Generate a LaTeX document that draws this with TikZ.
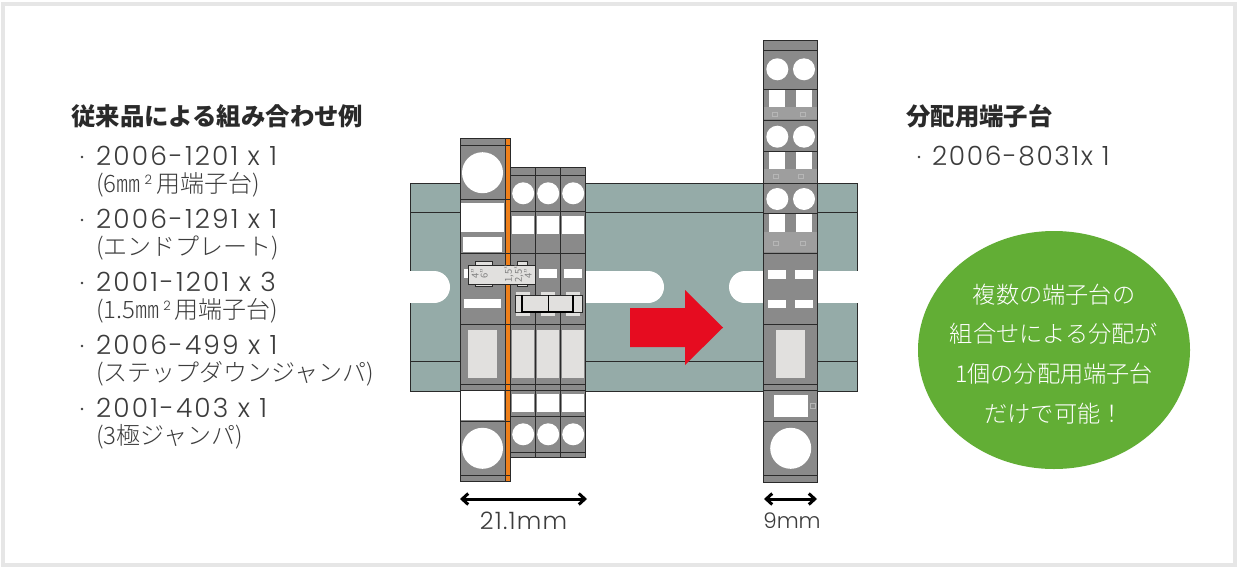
\documentclass[tikz,border=0pt]{standalone}
\usepackage{fontspec}
\setmainfont{Noto Sans CJK JP}
\newfontfamily\cjklight{Noto Sans CJK JP Light}
\newfontfamily\latf{Poppins Light}[LetterSpace=8]
\newfontfamily\latg{Poppins Light}[LetterSpace=6]
\newfontfamily\latk{Poppins Light}[LetterSpace=5]
\newfontfamily\lath{Poppins Light}
\usetikzlibrary{arrows.meta,shapes.geometric}
\definecolor{rail}{HTML}{95ABA8}
\definecolor{term}{HTML}{8A8A8A}
\definecolor{band}{HTML}{9E9E9E}
\definecolor{panel}{HTML}{E1E0DE}
\definecolor{ink}{HTML}{2A2A2A}
\definecolor{soft}{HTML}{3C3C3C}
\definecolor{org}{HTML}{EE7F1A}
\definecolor{redarrow}{HTML}{E60C20}
\definecolor{greenblob}{HTML}{62AE35}
\definecolor{framec}{HTML}{E6E6E6}
\newcommand{\rsq}{\,\raisebox{8pt}{\lath\fontsize{13}{13}\selectfont 2}\,}
\tikzset{
  x=1pt,y=-1pt,
  edge/.style={draw=ink,line width=0.9pt},
  hole/.style={fill=white},
  pale/.style={fill=panel},
  item/.style={anchor=west,inner sep=0pt,text=soft,font=\latf\fontsize{26.5}{26.5}\selectfont},
  sub/.style={anchor=west,inner sep=0pt,text=soft,font=\cjklight\fontsize{24}{24}\selectfont},
  headline/.style={anchor=west,inner sep=0pt,text=ink,font=\bfseries\fontsize{24.4}{24.4}\selectfont},
  bubbletext/.style={anchor=center,inner sep=0pt,text=white,font=\cjklight\fontsize{23.2}{23.2}\selectfont},
  dim/.style={line width=3pt,black,{Straight Barb[length=6pt,width=11pt]}-{Straight Barb[length=6pt,width=11pt]}},
  dimlabel/.style={anchor=center,inner sep=0pt,text=soft}
}
\begin{document}
\begin{tikzpicture}
\useasboundingbox (0,0) rectangle (1239,570);
\fill[white] (0,0) rectangle (1239,570);
\draw[framec,line width=4pt] (3,4) rectangle (1235,565);

% rail
\fill[rail] (410,183) rectangle (857,391.5);
\draw[edge] (410,391.5) -- (410,183) -- (857,183) -- (857,391.5) -- cycle;
\draw[edge] (410,212) -- (857,212) (410,361.5) -- (857,361.5);
% slots
\fill[white] (409,271) rectangle (434,303);
\fill[white] (434,287) circle[radius=16];
\fill[white] (580,271) rectangle (648,303);
\fill[white] (648,287) circle[radius=16];
\fill[white] (745,271) rectangle (858,303);
\fill[white] (745,287) circle[radius=16];

% ---- left block: 3 narrow terminals
\fill[term] (510.5,167.5) rectangle (585.5,457.5);
\foreach \c in {523.2,548.2,573.2}{
  \fill[hole] (\c,193.3) circle[radius=11];
  \fill[hole] (\c-11.2,216) rectangle (\c+11.2,234);
  \fill[pale] (\c-11.2,330) rectangle (\c+11.2,378);
  \fill[hole] (\c-11.2,394) rectangle (\c+11.2,412);
  \fill[hole] (\c,434.3) circle[radius=11];
}
\fill[hole] (539.3,269) rectangle (557,278);
\fill[hole] (564,269) rectangle (582,278);
\draw[edge] (510.5,167.5) rectangle (585.5,457.5);
\foreach \l in {175,211,253.3,324.2,384,390,416.7,452.3}{\draw[edge] (510.5,\l) -- (585.5,\l);}
\draw[edge] (535.7,167.5) -- (535.7,457.5) (560.7,167.5) -- (560.7,457.5);

% ---- left block: 6 mm terminal
\fill[term] (460,138) rectangle (505,481);
\fill[hole] (482.5,172.7) circle[radius=20.5];
\fill[hole] (461.3,202.7) rectangle (504,231.7);
\fill[hole] (463,237) rectangle (501.7,252.3);
\fill[hole] (463.7,269) rectangle (468,278);
\fill[hole] (463.7,299.3) rectangle (501,308);
\fill[pale] (468,330) rectangle (497,378);
\fill[hole] (461.3,391) rectangle (504,420);
\fill[hole] (482.5,448.3) circle[radius=20.5];
\draw[edge] (460,138) rectangle (505,481);
\foreach \l in {145,199.3,253.3,324.2,384,390,421.3,475.7}{\draw[edge] (460,\l) -- (505,\l);}
% end plate
\fill[org] (505,138) rectangle (510.7,481);
\draw[edge] (505,138) rectangle (510.7,481);
\foreach \l in {145,199.3,253.3,324.2,384,390,421.3,475.7}{\draw[edge,line width=0.6pt] (505,\l) -- (510.7,\l);}

% ---- step-down jumper
\fill[panel,draw=ink,line width=0.5pt] (475,261.5) rectangle (492,265);
\fill[panel,draw=ink,line width=0.5pt] (475,283) rectangle (492,286);
\fill[panel,draw=ink,line width=0.5pt] (517,261.5) rectangle (527,265);
\fill[panel,draw=ink,line width=0.5pt] (517,283) rectangle (527,286);
\node[fill=panel,draw=ink,line width=0.5pt,inner sep=0pt,minimum width=67.5pt,minimum height=18.5pt,anchor=north west] (clip) at (467.6,265) {};
\foreach \px/\tx in {475/{4"},484/{6"},509/{1,5"},519/{2,5"},528/{4"}}{
  \node[rotate=90,inner sep=0pt,text=black!50,font=\fontsize{9.5}{9.5}\selectfont] at (\px,274) {\tx};
}

% ---- 3-pole jumper
\foreach \c in {523.2,548.2,573.2}{
  \fill[panel] (\c-7,292) rectangle (\c+7,296);
  \fill[panel] (\c-7,311) rectangle (\c+7,315.5);
}
\node[fill=panel,draw=ink,line width=0.5pt,inner sep=0pt,minimum width=66.5pt,minimum height=17pt,anchor=north west] (bridge) at (515,295) {};
\draw[black,line width=2pt] (522.4,295) -- (522.4,311.8) -- (573.4,311.8) -- (573.4,295);
\draw[black,line width=1pt] (548.3,295) -- (548.3,311.8);

% ---- right block: distribution terminal
\fill[term] (763.7,40.7) rectangle (817.3,482);
\foreach \a/\b/\c/\d in {107.3/119.3/69.3/89.3,169.3/182.7/136.7/151,231.7/252.3/199/213.3}{
  \fill[band] (763.7,\a) rectangle (817.3,\b);
  \fill[hole] (777.3,\c) circle[radius=11];
  \fill[hole] (804,\c) circle[radius=11];
  \fill[hole] (769.3,\d) rectangle (785,\a);
  \fill[hole] (796.3,\d) rectangle (812,\a);
}
\foreach \y in {270,299.5}{
  \fill[hole] (768.3,\y) rectangle (786.3,\y+8.7);
  \fill[hole] (795,\y) rectangle (813,\y+8.7);
}
\fill[pale] (776.3,330.3) rectangle (805,378.3);
\fill[hole] (773.7,394.7) rectangle (807.7,417);
\fill[hole] (790.7,448.3) circle[radius=20.5];
\draw[edge] (763.7,40.7) rectangle (817.3,482);
\foreach \l in {50,89.3,120.3,151,183,213.3,253,324,384,390,421.3,475.7}{\draw[edge] (763.7,\l) -- (817.3,\l);}
% faint printed marks
\foreach \mx/\my in {775/114,803/114,776/176,801/176,776/243,803/243}{
  \draw[white!25!band,line width=0.6pt] (\mx-2.5,\my-2.2) rectangle (\mx+2.5,\my+2.2);
}
\draw[white!25!band,line width=0.6pt] (810.5,403.5) rectangle (815,408.5);

% ---- red arrow
\fill[redarrow] (630,308) -- (685,308) -- (685,290) -- (723,327.5) -- (685,365) -- (685,347) -- (630,347) -- cycle;

% ---- dimensions
\coordinate (dimAl) at (460,499);
\coordinate (dimAr) at (587,499);
\coordinate (dimBl) at (764,499);
\coordinate (dimBr) at (817,499);
\draw[dim] (dimAl) -- (dimAr);
\draw[dim] (dimBl) -- (dimBr);
\node[dimlabel,font=\latk\fontsize{24}{24}\selectfont] (dimAtxt) at (523.5,521) {21.1mm};
\node[dimlabel,font=\lath\fontsize{21.5}{21.5}\selectfont] (dimBtxt) at (792,521) {9mm};

% ---- left list
\node[headline] (listhead) at (71,116) {従来品による組み合わせ例};
\foreach \n/\y/\main/\second in {
  a/157/{2006-1201 x 1}/{(6㎜\rsq 用端子台)},
  b/220/{2006-1291 x 1}/{(エンドプレート)},
  c/283/{2001-1201 x 3}/{(1.5㎜\rsq 用端子台)},
  d/346/{2006-499 x 1}/{(ステップダウンジャンパ)},
  e/409/{2001-403 x 1}/{(3極ジャンパ)}}{
  \fill[soft] (82,\y) circle[radius=1.3];
  \node[item] (m\n) at (96,\y-1) {\main};
  \node[sub] (s\n) at (96,\y+28) {\second};
}

% ---- right list
\node[headline] (righthead) at (906,116) {分配用端子台};
\fill[soft] (919,157) circle[radius=1.3];
\node[item,font=\latg\fontsize{26.5}{26.5}\selectfont] (rightitem) at (932,156) {2006-8031x 1};

% ---- bubble
\node[ellipse,fill=greenblob,minimum width=272pt,minimum height=238pt,inner sep=0pt] (bubble) at (1054,350) {};
\node[bubbletext] (b1) at (1054,295) {複数の端子台の};
\node[bubbletext] (b2) at (1054,334) {組合せによる分配が};
\node[bubbletext] (b3) at (1054,374) {1個の分配用端子台};
\node[bubbletext] (b4) at (1054,414) {だけで可能！};
\end{tikzpicture}
\end{document}
